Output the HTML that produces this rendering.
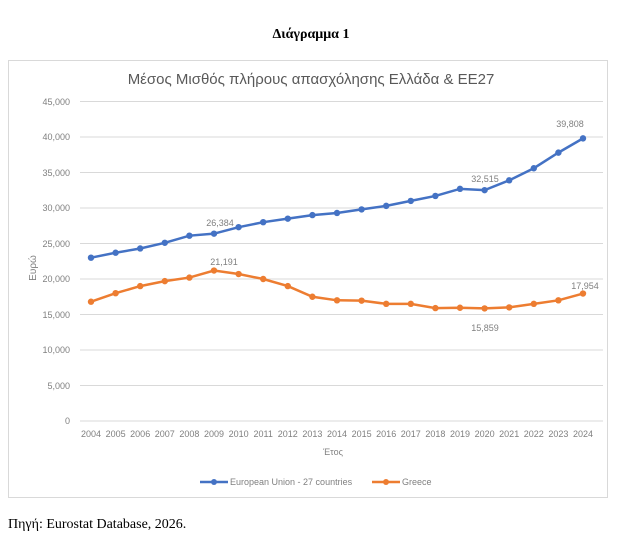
<!DOCTYPE html>
<html><head><meta charset="utf-8"><style>
body{margin:0;background:#fff;width:624px;height:543px;overflow:hidden}
</style></head><body>
<svg width="624" height="543" xmlns="http://www.w3.org/2000/svg" font-family="Liberation Sans, DejaVu Sans, sans-serif">
<text x="311" y="38" text-anchor="middle" font-family="Liberation Serif, serif" font-weight="bold" font-size="14">Διάγραμμα 1</text>
<rect x="8.5" y="60.5" width="599" height="437" fill="#fff" stroke="#d9d9d9"/>
<text x="311" y="84" text-anchor="middle" font-size="15" fill="#595959">Μέσος Μισθός πλήρους απασχόλησης Ελλάδα &amp; ΕΕ27</text>
<g stroke="#d9d9d9" stroke-width="1">
<line x1="80" x2="603" y1="101.5" y2="101.5"/><line x1="80" x2="603" y1="137" y2="137"/><line x1="80" x2="603" y1="172.5" y2="172.5"/><line x1="80" x2="603" y1="208" y2="208"/><line x1="80" x2="603" y1="243.5" y2="243.5"/><line x1="80" x2="603" y1="279" y2="279"/><line x1="80" x2="603" y1="314.5" y2="314.5"/><line x1="80" x2="603" y1="350" y2="350"/><line x1="80" x2="603" y1="385.5" y2="385.5"/><line x1="80" x2="603" y1="421" y2="421"/>
</g>
<g font-size="9" fill="#808080" text-anchor="end">
<text x="70" y="105">45,000</text><text x="70" y="140">40,000</text><text x="70" y="176">35,000</text><text x="70" y="211">30,000</text><text x="70" y="247">25,000</text><text x="70" y="282">20,000</text><text x="70" y="318">15,000</text><text x="70" y="353">10,000</text><text x="70" y="389">5,000</text><text x="70" y="424">0</text>
</g>
<text transform="translate(36,268) rotate(-90)" text-anchor="middle" font-size="10" fill="#808080">Ευρώ</text>
<g font-size="9" fill="#808080" text-anchor="middle" id="xl"></g>
<text x="333" y="455" text-anchor="middle" font-size="9" fill="#808080">Έτος</text>
<g id="plot"></g>
<g font-size="9" fill="#808080">
<line x1="200" x2="228" y1="482" y2="482" stroke="#4472c4" stroke-width="2.5"/><circle cx="214" cy="482" r="3" fill="#4472c4"/>
<text x="230" y="485">European Union - 27 countries</text>
<line x1="372" x2="400" y1="482" y2="482" stroke="#ed7d31" stroke-width="2.5"/><circle cx="386" cy="482" r="3" fill="#ed7d31"/>
<text x="402" y="485">Greece</text>
</g>
<g font-size="9" fill="#808080" text-anchor="middle">
<text x="220" y="226">26,384</text><text x="224" y="265">21,191</text><text x="485" y="182">32,515</text><text x="570" y="127">39,808</text><text x="485" y="331">15,859</text><text x="585" y="289">17,954</text>
</g>
<text x="8" y="528" font-family="Liberation Serif, serif" font-size="14">Πηγή: Eurostat Database, 2026.</text>
</svg>
<script>
var eu=[23000,23700,24300,25100,26100,26384,27300,28000,28500,29000,29300,29800,30300,31000,31700,32700,32515,33900,35600,37800,39808];
var gr=[16800,18000,19000,19700,20200,21191,20700,20000,19000,17500,17000,16950,16500,16500,15900,15950,15859,16000,16500,17000,17954];
var ns="http://www.w3.org/2000/svg";
function X(i){return 91+i*24.6}function Y(v){return 421-v*319.5/45000}
var xl=document.getElementById('xl'),p=document.getElementById('plot');
for(var i=0;i<21;i++){var t=document.createElementNS(ns,'text');t.setAttribute('x',X(i));t.setAttribute('y',437);t.textContent=2004+i;xl.appendChild(t);}
[[eu,'#4472c4'],[gr,'#ed7d31']].forEach(function(s){
var pts=s[0].map(function(v,i){return X(i)+','+Y(v)}).join(' ');
var pl=document.createElementNS(ns,'polyline');pl.setAttribute('points',pts);pl.setAttribute('fill','none');pl.setAttribute('stroke',s[1]);pl.setAttribute('stroke-width','2.5');p.appendChild(pl);
s[0].forEach(function(v,i){var c=document.createElementNS(ns,'circle');c.setAttribute('cx',X(i));c.setAttribute('cy',Y(v));c.setAttribute('r',3.2);c.setAttribute('fill',s[1]);p.appendChild(c);});
});
</script>
</body></html>
